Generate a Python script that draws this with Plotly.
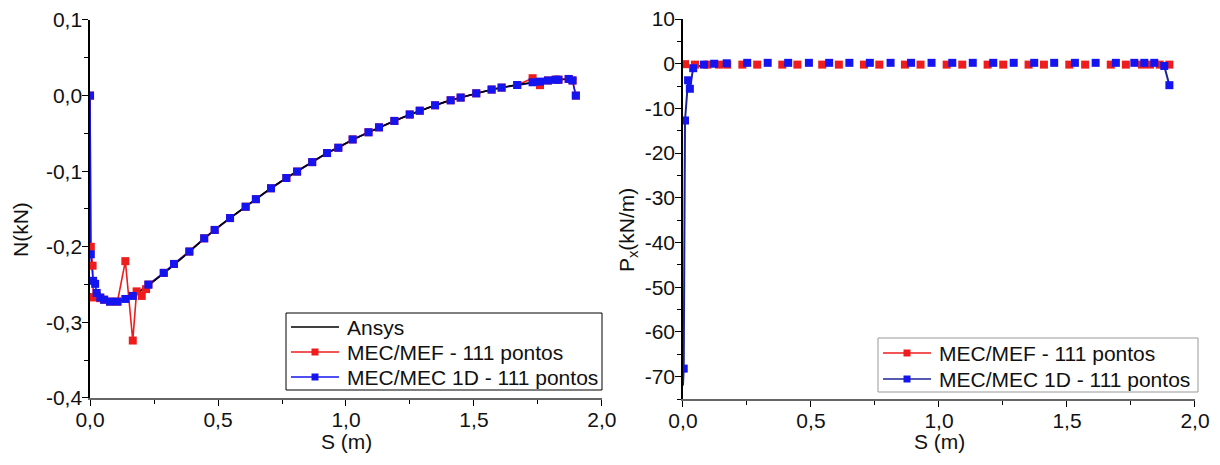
import plotly.graph_objects as go

# ---------------- Normal force N(S) ----------------
ansys_s = [0.0, 0.05, 0.10, 0.15, 0.20, 0.30, 0.40, 0.50, 0.60, 0.70, 0.80, 0.90,
           1.00, 1.10, 1.20, 1.30, 1.40, 1.50, 1.60, 1.70, 1.80, 1.87, 1.90]
ansys_n = [-0.262, -0.270, -0.2725, -0.268, -0.258, -0.232, -0.203, -0.174, -0.149,
           -0.124, -0.102, -0.081, -0.063, -0.047, -0.032, -0.019, -0.007, 0.002,
           0.010, 0.016, 0.020, 0.022, 0.022]

mef_s = [0.0, 0.003, 0.010, 0.013, 0.026, 0.040, 0.055, 0.078, 0.107, 0.138, 0.167,
         0.182, 0.202, 0.219, 0.228, 0.288, 0.328, 0.388, 0.446, 0.487, 0.547, 0.608,
         0.648, 0.707, 0.767, 0.809, 0.868, 0.926, 0.970, 1.026, 1.088, 1.129, 1.189,
         1.249, 1.288, 1.348, 1.409, 1.448, 1.509, 1.569, 1.608, 1.669, 1.729, 1.758,
         1.789, 1.819, 1.830, 1.870, 1.885, 1.898]
mef_n = [0.0, -0.200, -0.225, -0.267, -0.265, -0.268, -0.270, -0.2725, -0.2725, -0.219,
         -0.324, -0.259, -0.265, -0.256, -0.250, -0.2345, -0.2227, -0.2063, -0.1888,
         -0.1777, -0.162, -0.147, -0.137, -0.1226, -0.109, -0.1005, -0.088, -0.076,
         -0.069, -0.058, -0.0485, -0.042, -0.0335, -0.025, -0.020, -0.0128, -0.0062,
         -0.0026, 0.003, 0.008, 0.0106, 0.014, 0.023, 0.0138, 0.020, 0.021, 0.021,
         0.022, 0.020, 0.0]

mec_s = [0.0, 0.003, 0.012, 0.020, 0.026, 0.040, 0.055, 0.078, 0.107, 0.138, 0.167,
         0.228, 0.288, 0.328, 0.388, 0.446, 0.487, 0.547, 0.608, 0.648, 0.707, 0.767,
         0.809, 0.868, 0.926, 0.970, 1.026, 1.088, 1.129, 1.189, 1.249, 1.288, 1.348,
         1.409, 1.448, 1.509, 1.569, 1.608, 1.669, 1.729, 1.758, 1.789, 1.819, 1.830,
         1.870, 1.885, 1.898]
mec_n = [0.0, -0.210, -0.245, -0.249, -0.261, -0.267, -0.270, -0.2725, -0.2725, -0.269,
         -0.265, -0.250, -0.2345, -0.2227, -0.2063, -0.1888, -0.1777, -0.162, -0.147,
         -0.137, -0.1226, -0.109, -0.1005, -0.088, -0.076, -0.069, -0.058, -0.0485,
         -0.042, -0.0335, -0.025, -0.020, -0.0128, -0.0062, -0.0026, 0.003, 0.008,
         0.0106, 0.014, 0.0176, 0.0185, 0.020, 0.021, 0.021, 0.022, 0.020, 0.0]

# ---------------- Distributed load Px(S) ----------------
px_mef_s = [0.008, 0.047, 0.095, 0.141, 0.173, 0.232, 0.290, 0.388, 0.447, 0.544,
            0.609, 0.707, 0.767, 0.867, 0.928, 1.030, 1.091, 1.190, 1.251, 1.350,
            1.410, 1.509, 1.571, 1.671, 1.730, 1.793, 1.824, 1.862, 1.900]
px_mef_p = [-0.1, -0.2, -0.2, -0.2, -0.2, -0.2, -0.2, -0.2, -0.2, -0.2, -0.2, -0.2,
            -0.2, -0.2, -0.2, -0.2, -0.2, -0.2, -0.2, -0.2, -0.2, -0.2, -0.2, -0.2,
            -0.2, -0.2, -0.2, -0.2, -0.2]

px_mec_s = [0.0, 0.003, 0.008, 0.020, 0.027, 0.040, 0.082, 0.122, 0.171, 0.251, 0.331,
            0.411, 0.492, 0.571, 0.650, 0.730, 0.811, 0.891, 0.971, 1.052, 1.132,
            1.212, 1.292, 1.372, 1.450, 1.531, 1.612, 1.691, 1.763, 1.802, 1.841,
            1.880, 1.900]
px_mec_p = [-72.0, -68.2, -12.7, -3.7, -5.6, -1.0, -0.2, 0.0, 0.1, 0.2, 0.2, 0.2, 0.2,
            0.2, 0.2, 0.2, 0.2, 0.2, 0.2, 0.2, 0.2, 0.2, 0.2, 0.2, 0.2, 0.2, 0.2, 0.2,
            0.2, 0.2, 0.2, -0.5, -4.8]

x_ticks = [0.0, 0.5, 1.0, 1.5, 2.0]
x_labels = ["0,0", "0,5", "1,0", "1,5", "2,0"]
n_ticks = [0.1, 0.0, -0.1, -0.2, -0.3, -0.4]
n_labels = ["0,1", "0,0", "-0,1", "-0,2", "-0,3", "-0,4"]
p_ticks = [10, 0, -10, -20, -30, -40, -50, -60, -70]
p_labels = ["10", "0", "-10", "-20", "-30", "-40", "-50", "-60", "-70"]

name_ansys = "Ansys"
name_mef = "MEC/MEF - 111 pontos"
name_mec = "MEC/MEC 1D - 111 pontos"

RED = "#ee1c1c"
BLUE = "#1414f0"
NAVY = "#1c2596"
FONT = "Liberation Sans, Arial, sans-serif"
MSIZE = 8
TXT = 21
W, H = 1220, 465

fig = go.Figure()

# left panel: coloured connecting lines first, Ansys on top, symbols last
fig.add_trace(go.Scatter(x=mef_s, y=mef_n, mode="lines", line=dict(color=RED, width=1.6),
                         showlegend=False, xaxis="x", yaxis="y"))
fig.add_trace(go.Scatter(x=mec_s, y=mec_n, mode="lines", line=dict(color=BLUE, width=1.6),
                         showlegend=False, xaxis="x", yaxis="y"))
fig.add_trace(go.Scatter(x=ansys_s, y=ansys_n, mode="lines", line=dict(color="black", width=1.6),
                         line_shape="spline", showlegend=False, xaxis="x", yaxis="y"))
fig.add_trace(go.Scatter(x=mef_s, y=mef_n, mode="markers",
                         marker=dict(symbol="square", size=MSIZE, color=RED),
                         showlegend=False, xaxis="x", yaxis="y"))
fig.add_trace(go.Scatter(x=mec_s, y=mec_n, mode="markers",
                         marker=dict(symbol="square", size=MSIZE, color=BLUE),
                         showlegend=False, xaxis="x", yaxis="y"))

# right panel: connecting lines only along the steep ends
fig.add_trace(go.Scatter(x=px_mec_s[:7], y=px_mec_p[:7], mode="lines",
                         line=dict(color=NAVY, width=2), showlegend=False,
                         xaxis="x2", yaxis="y2"))
fig.add_trace(go.Scatter(x=px_mec_s[-2:], y=px_mec_p[-2:], mode="lines",
                         line=dict(color=NAVY, width=2), showlegend=False,
                         xaxis="x2", yaxis="y2"))
fig.add_trace(go.Scatter(x=px_mef_s, y=px_mef_p, mode="markers",
                         marker=dict(symbol="square", size=MSIZE, color=RED),
                         showlegend=False, xaxis="x2", yaxis="y2"))
fig.add_trace(go.Scatter(x=px_mec_s[1:], y=px_mec_p[1:], mode="markers",
                         marker=dict(symbol="square", size=MSIZE, color=BLUE),
                         showlegend=False, xaxis="x2", yaxis="y2"))


# ---- legends drawn as boxed keys (pixel layout -> paper coordinates) ----
def px(xp):
    return xp / W


def py(yp):
    return 1 - yp / H


shapes = []
annotations = []


def legend_box(x0, y0, x1, y1, color):
    shapes.append(dict(type="rect", xref="paper", yref="paper",
                       x0=px(x0), x1=px(x1), y0=py(y1), y1=py(y0),
                       line=dict(color=color, width=1), fillcolor="white", layer="above"))


def legend_row(x_line, y_row, label, line_color, marker_color=None):
    shapes.append(dict(type="line", xref="paper", yref="paper",
                       x0=px(x_line), x1=px(x_line + 48), y0=py(y_row), y1=py(y_row),
                       line=dict(color=line_color, width=1.6), layer="above"))
    if marker_color:
        cx = x_line + 24
        shapes.append(dict(type="rect", xref="paper", yref="paper",
                           x0=px(cx - 3.5), x1=px(cx + 3.5), y0=py(y_row + 3.5), y1=py(y_row - 3.5),
                           line=dict(width=0), fillcolor=marker_color, layer="above"))
    annotations.append(dict(text=label, xref="paper", yref="paper", x=px(x_line + 54), y=py(y_row),
                            xanchor="left", yanchor="middle", showarrow=False,
                            font=dict(size=TXT, family=FONT, color="#111")))


def axis_title(text, xp, yp, angle=0):
    annotations.append(dict(text=text, xref="paper", yref="paper", x=px(xp), y=py(yp),
                            xanchor="center", yanchor="middle", showarrow=False,
                            textangle=angle, font=dict(size=TXT, family=FONT, color="#111")))


legend_box(286, 313, 602, 390, "black")
legend_row(291, 327, name_ansys, "black")
legend_row(291, 352, name_mef, RED, RED)
legend_row(291, 377, name_mec, BLUE, BLUE)

legend_box(878, 338, 1198, 392, "#999")
legend_row(883, 353, name_mef, RED, RED)
legend_row(883, 379, name_mec, NAVY, BLUE)

axis_title("S (m)", 346, 441)
axis_title("S (m)", 939, 441)
axis_title("N(kN)", 20, 230, -90)
axis_title("P<sub>x</sub>(kN/m)", 628, 230, -90)

axis_common = dict(showgrid=False, zeroline=False, ticks="outside", ticklen=6,
                   tickwidth=1.2, tickcolor="black", showline=True, linewidth=1.5,
                   automargin=False, ticklabelstandoff=-4,
                   tickfont=dict(size=TXT, color="#111", family=FONT),
                   minor=dict(ticks="outside", ticklen=4, tickcolor="black", tickwidth=1))

fig.update_layout(
    width=W, height=H,
    margin=dict(l=0, r=0, t=0, b=0),
    paper_bgcolor="white", plot_bgcolor="white",
    showlegend=False,
    font=dict(family=FONT, size=TXT, color="#111"),
    shapes=shapes,
    annotations=annotations,
    xaxis=dict(domain=[0.0738, 0.4934], range=[0, 2.0], tickvals=x_ticks, ticktext=x_labels,
               linecolor="#666", anchor="y", minor_dtick=0.25, **axis_common),
    yaxis=dict(domain=[0.1441, 0.957], range=[-0.4, 0.1], tickvals=n_ticks, ticktext=n_labels,
               linecolor="black", anchor="x", minor_dtick=0.05, **axis_common),
    xaxis2=dict(domain=[0.5598, 0.9795], range=[0, 2.0], tickvals=x_ticks, ticktext=x_labels,
                linecolor="#666", anchor="y2", minor_dtick=0.25, **axis_common),
    yaxis2=dict(domain=[0.1419, 0.9591], range=[-75, 10], tickvals=p_ticks, ticktext=p_labels,
                linecolor="black", anchor="x2", minor_dtick=5, **axis_common),
)

fig.write_html("out.html")
